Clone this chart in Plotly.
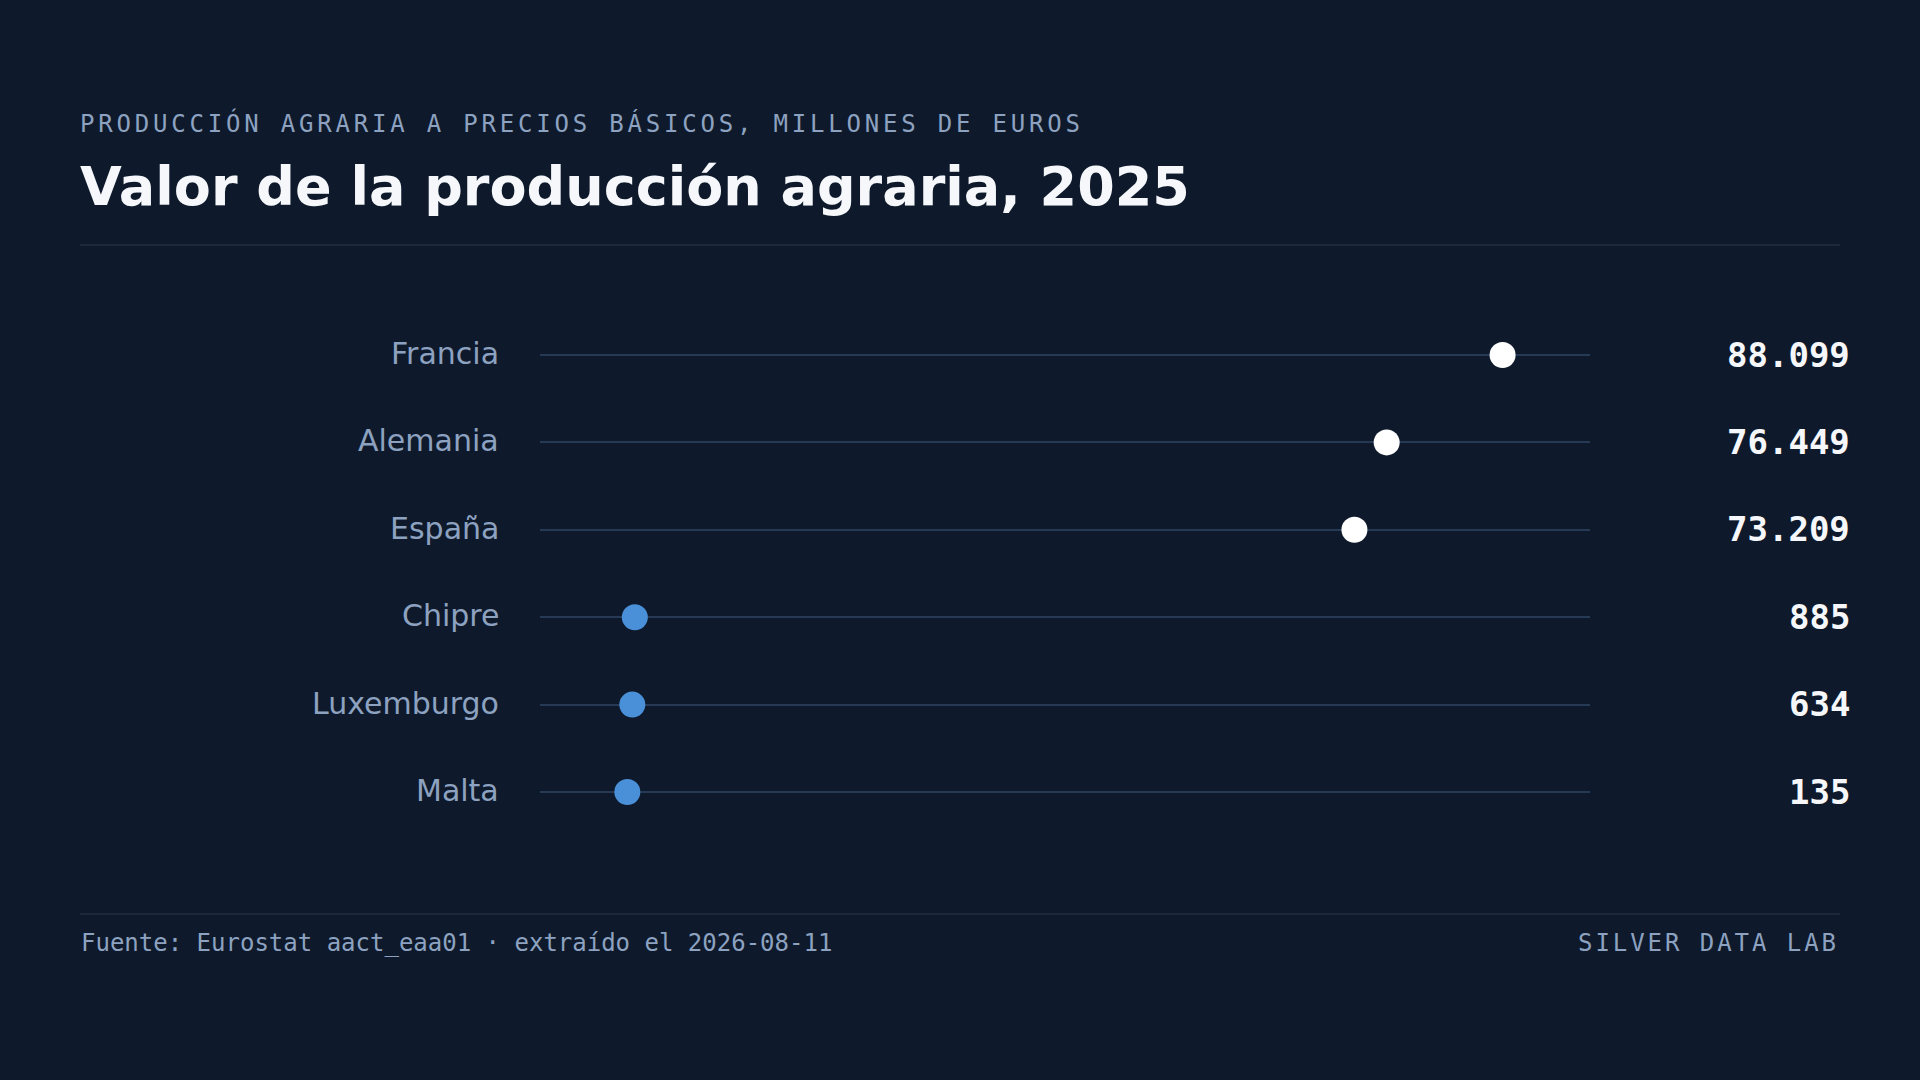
import plotly.graph_objects as go

# datos: producción agraria 2025, millones de euros
countries = ["Francia", "Alemania", "España", "Chipre", "Luxemburgo", "Malta"]
values = [88099, 76449, 73209, 885, 634, 135]
top_group = ["Francia", "Alemania", "España"]

subtitle = "PRODUCCIÓN AGRARIA A PRECIOS BÁSICOS, MILLONES DE EUROS"
title = "Valor de la producción agraria, 2025"
source = "Fuente: Eurostat aact_eaa01 · extraído el 2026-08-11"
brand = "SILVER DATA LAB"

BG = "#0E1A2B"
MUTED = "#8DA2C0"
WHITE = "#F5F7FA"
BLUE = "#4A90D9"
ROW_LINE = "#263A55"
RULE = "#1B293B"

W, H = 1920, 1080


def py(px):
    # pixel from top -> paper y
    return 1 - px / H


def fmt_es(v):
    return f"{v:,}".replace(",", ".")


fig = go.Figure()

dot_colors = ["#FFFFFF" if c in top_group else BLUE for c in countries]
fig.add_trace(go.Scatter(
    x=values, y=countries, mode="markers",
    marker=dict(size=26, color=dot_colors, line=dict(width=0)),
    hoverinfo="skip", showlegend=False,
))

annotations = []
for c, v in zip(countries, values):
    # country name left of the rows
    annotations.append(dict(
        xref="x domain", yref="y", x=0, y=c, xshift=-39, yshift=1.5,
        text=c, showarrow=False, xanchor="right", yanchor="middle",
        font=dict(family="DejaVu Sans", size=30, color=MUTED),
    ))
    # value on the right
    annotations.append(dict(
        xref="x domain", yref="y", x=1, y=c, xshift=261.5, yshift=0.5,
        text=fmt_es(v), showarrow=False, xanchor="right", yanchor="middle",
        font=dict(family="DejaVu Sans Mono", size=34, color=WHITE, weight="bold"),
    ))

annotations += [
    dict(xref="paper", yref="paper", x=77.5 / W, y=py(122.8), xanchor="left", yanchor="middle",
         text=f'<span style="letter-spacing:3.8px">{subtitle}</span>', showarrow=False,
         font=dict(family="DejaVu Sans Mono", size=24, color=MUTED)),
    dict(xref="paper", yref="paper", x=78 / W, y=py(186), xanchor="left", yanchor="middle",
         text=f"<b>{title}</b>", showarrow=False,
         font=dict(family="DejaVu Sans", size=54, color=WHITE)),
    dict(xref="paper", yref="paper", x=79 / W, y=py(943), xanchor="left", yanchor="middle",
         text=source, showarrow=False,
         font=dict(family="DejaVu Sans Mono", size=24, color=MUTED)),
    dict(xref="paper", yref="paper", x=1841 / W, y=py(943), xanchor="right", yanchor="middle",
         text=f'<span style="letter-spacing:2.95px">{brand}</span>', showarrow=False,
         font=dict(family="DejaVu Sans Mono", size=24, color=MUTED)),
]

shapes = [
    dict(type="line", xref="paper", yref="paper", x0=80 / W, x1=1840 / W,
         y0=py(245), y1=py(245), line=dict(color=RULE, width=2)),
    dict(type="line", xref="paper", yref="paper", x0=80 / W, x1=1840 / W,
         y0=py(914), y1=py(914), line=dict(color=RULE, width=2)),
]

fig.update_layout(
    width=W, height=H,
    margin=dict(l=0, r=0, t=0, b=0),
    paper_bgcolor=BG, plot_bgcolor=BG,
    showlegend=False,
    annotations=annotations,
    shapes=shapes,
    hovermode=False,
    xaxis=dict(domain=[540 / W, 1590 / W], range=[-8643, 96884],
               visible=False, showgrid=False, zeroline=False),
    yaxis=dict(domain=[py(835.7), py(311.3)], type="category",
               categoryorder="array", categoryarray=countries,
               range=[len(countries) - 0.5, -0.5],
               showgrid=True, gridcolor=ROW_LINE, gridwidth=2,
               zeroline=False, showticklabels=False, ticks="", showline=False),
)

fig.write_html("out.html", config={"displayModeBar": False},
               post_script="document.body.style.margin='0';")
